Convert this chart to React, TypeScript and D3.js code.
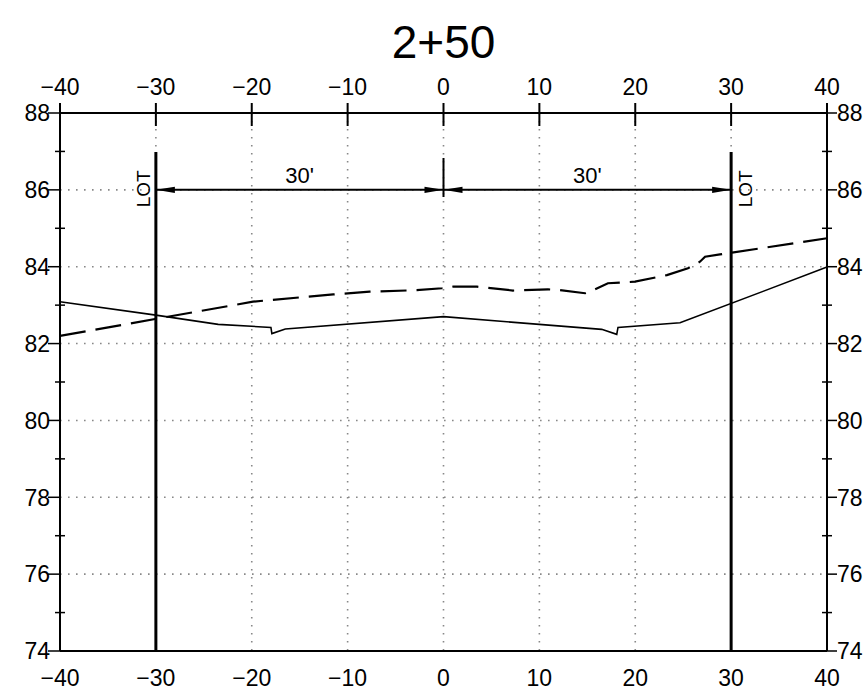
import React from "react";
import * as d3 from "d3";

const title = "2+50";
const xTicks = [-40, -30, -20, -10, 0, 10, 20, 30, 40];
const yTicks = [74, 76, 78, 80, 82, 84, 86, 88];
const yMinor = [75, 77, 79, 81, 83, 85, 87];
const xGrid = [-30, -20, -10, 0, 10, 20, 30];
const lotX = [-30, 30];
const dimY = 86;
const dimSpans: [number, number][] = [[-30, 0], [0, 30]];
const dimLabel = "30'";

const groundX = [-40, -30, -23.5, -18.0, -17.9, -16.5, 0, 16.5, 18.07, 18.2, 24.67, 40];
const groundY = [83.09, 82.74, 82.5, 82.42, 82.26, 82.38, 82.7, 82.37, 82.24, 82.42, 82.54, 83.99];

const propX = [-40, -19.87, -11.5, -7.7, -2.8, -0.15, 0.99, 3.49, 7.25, 10.9, 12.15, 14.76, 15.8, 17.15, 19.97, 23.3, 25.5, 26.75, 27.28, 28.84, 40];
const propY = [82.2, 83.09, 83.28, 83.35, 83.39, 83.44, 83.48, 83.48, 83.38, 83.41, 83.39, 83.31, 83.41, 83.57, 83.61, 83.78, 83.96, 84.13, 84.26, 84.32, 84.74];

const FONT = "'Liberation Sans', Arial, sans-serif";

export default function App() {
  const W = 863, H = 690;
  const x = d3.scaleLinear().domain([-40, 40]).range([60, 827]);
  const y = d3.scaleLinear().domain([74, 88]).range([651, 113]);
  const line = d3.line<[number, number]>().x(d => x(d[0])).y(d => y(d[1]));
  const ground = line(groundX.map((v, i) => [v, groundY[i]] as [number, number])) || "";
  const prop = line(propX.map((v, i) => [v, propY[i]] as [number, number])) || "";
  const x0 = x.range()[0], x1 = x.range()[1];
  const yT = y.range()[1], yB = y.range()[0];
  const dy = y(dimY);

  const arrow = (tipX: number, dir: number) => {
    const L = 19, h = 3.2;
    return `M${tipX},${dy} L${tipX + dir * L},${dy - h} L${tipX + dir * L},${dy + h} Z`;
  };
  const fmt = (t: number) => (t < 0 ? "\u2212" + Math.abs(t) : String(t));

  return (
    <svg width={W} height={H} style={{ position: "absolute", left: 0, top: 0, background: "#fff" }}>
      <text x={x(0)} y={58} textAnchor="middle" fontFamily={FONT} fontSize={46} fill="#000">{title}</text>
      {/* grid */}
      {yTicks.map(t => (
        <line key={"gy" + t} x1={x0} x2={x1} y1={y(t)} y2={y(t)} stroke="#888" strokeWidth={1.6} strokeDasharray="1.6,6.4" />
      ))}
      {xGrid.map(t => (
        <line key={"gx" + t} x1={x(t)} x2={x(t)} y1={yT} y2={yB} stroke="#888" strokeWidth={1.6} strokeDasharray="1.6,6.4" />
      ))}
      {/* frame */}
      <line x1={x0} x2={x1} y1={yT} y2={yT} stroke="#000" strokeWidth={2} />
      <line x1={x0} x2={x1} y1={yB} y2={yB} stroke="#000" strokeWidth={2} />
      <line x1={x0} x2={x0} y1={yT - 10} y2={yB} stroke="#000" strokeWidth={2} />
      <line x1={x1} x2={x1} y1={yT - 10} y2={yB} stroke="#000" strokeWidth={2} />
      {/* x ticks and labels */}
      {xTicks.map(t => (
        <g key={"xt" + t}>
          <line x1={x(t)} x2={x(t)} y1={yT - 10} y2={yT + 13} stroke="#000" strokeWidth={2} />
          <text x={x(t)} y={95} textAnchor="middle" fontFamily={FONT} fontSize={23} fill="#000">{fmt(t)}</text>
          <text x={x(t)} y={686} textAnchor="middle" fontFamily={FONT} fontSize={23} fill="#000">{fmt(t)}</text>
        </g>
      ))}
      {/* y ticks */}
      {yTicks.map(t => (
        <g key={"yt" + t}>
          <line x1={x0 - 12} x2={x0} y1={y(t)} y2={y(t)} stroke="#000" strokeWidth={1.5} />
          <line x1={x1} x2={x1 + 10} y1={y(t)} y2={y(t)} stroke="#000" strokeWidth={1.5} />
          <text x={x0 - 10} y={y(t)} dy="0.36em" textAnchor="end" fontFamily={FONT} fontSize={23} fill="#000">{t}</text>
          <text x={x1 + 10} y={y(t)} dy="0.36em" textAnchor="start" fontFamily={FONT} fontSize={23} fill="#000">{t}</text>
        </g>
      ))}
      {yMinor.map(t => (
        <g key={"ym" + t}>
          <line x1={x0 - 5} x2={x0 + 5} y1={y(t)} y2={y(t)} stroke="#000" strokeWidth={1.5} />
          <line x1={x1 - 5} x2={x1 + 5} y1={y(t)} y2={y(t)} stroke="#000" strokeWidth={1.5} />
        </g>
      ))}
      {/* LOT lines */}
      {lotX.map(t => (
        <g key={"lot" + t}>
          <line x1={x(t)} x2={x(t)} y1={152} y2={yB} stroke="#000" strokeWidth={3} />
          <text transform={`translate(${t < 0 ? x(t) - 6 : x(t) + 21},${dy - 1}) rotate(-90)`} textAnchor="middle" fontFamily={FONT} fontSize={19} fill="#000">LOT</text>
        </g>
      ))}
      {/* dimension */}
      <line x1={x(0)} x2={x(0)} y1={158} y2={197} stroke="#000" strokeWidth={2} />
      {dimSpans.map(([a, b], i) => (
        <g key={"dim" + i}>
          <line x1={x(a)} x2={x(b)} y1={dy} y2={dy} stroke="#000" strokeWidth={2} />
          <path d={arrow(x(a), 1)} fill="#000" />
          <path d={arrow(x(b), -1)} fill="#000" />
          <text x={x((a + b) / 2)} y={183} textAnchor="middle" fontFamily={FONT} fontSize={22} fill="#000">{dimLabel}</text>
        </g>
      ))}
      {/* profiles */}
      <path d={ground} fill="none" stroke="#000" strokeWidth={1.6} />
      <path d={prop} fill="none" stroke="#000" strokeWidth={2.2} strokeDasharray="26,10" />
    </svg>
  );
}
